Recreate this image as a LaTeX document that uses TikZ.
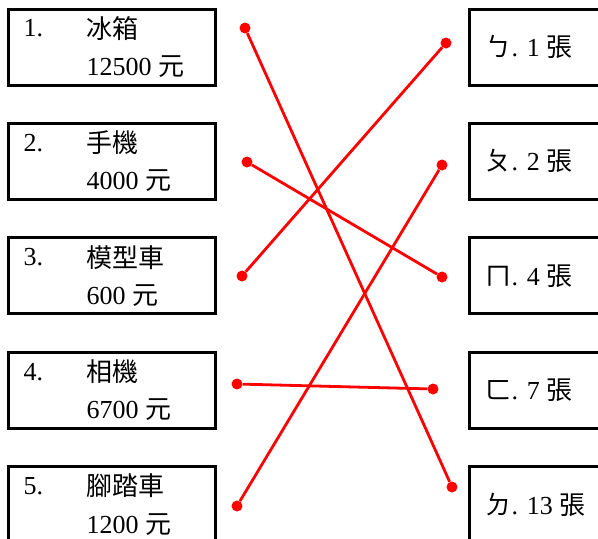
\documentclass[tikz,border=0pt]{standalone}
\usepackage{fontspec}
\setmainfont{Liberation Serif}
\newfontfamily\cjk{Noto Sans CJK TC}
\begin{document}
\begin{tikzpicture}[x=1pt,y=-1pt,
  box/.style={draw,line width=3pt,minimum width=207pt,minimum height=76pt,inner sep=0pt},
  tagbox/.style={draw,line width=3pt,minimum width=150pt,minimum height=76pt,inner sep=0pt},
  txt/.style={anchor=west,inner sep=0pt,font=\fontsize{26}{30}\selectfont},
  dot/.style={circle,fill=red,inner sep=0pt,minimum size=11pt},
  link/.style={red,line width=2.8pt}]
   \clip (0,0) rectangle (598,539);
   % left column: items and prices
   \foreach \n/\item/\price [count=\k from 0] in {1/冰箱/12500,2/手機/4000,3/模型車/600,4/相機/6700,5/腳踏車/1200}{
     \node[box] (a\n) at (112,47+114.4*\k) {};
     \node[txt] (num\n) at ([shift={(16.5,21)}]a\n.north west) {\n.};
     \node[txt] (item\n) at ([shift={(79.5,21)}]a\n.north west) {\cjk \item};
     \node[txt] (price\n) at ([shift={(79.5,59)}]a\n.north west) {\price\ {\cjk 元}};
   }
   % right column: number of bills
   \foreach \n/\sym/\cnt [count=\k from 0] in {1/ㄅ/1,2/ㄆ/2,3/ㄇ/4,4/ㄈ/7,5/ㄉ/13}{
     \node[tagbox] (b\n) at (544,47+114.4*\k) {};
     \node[txt] (tag\n) at ([shift={(18,0)}]b\n.west) {{\cjk \sym}. \cnt\ {\cjk 張}};
   }
   % dots
   \node[dot] (l1) at (245,28) {};
   \node[dot] (l2) at (247,162) {};
   \node[dot] (l3) at (242,276) {};
   \node[dot] (l4) at (237,384) {};
   \node[dot] (l5) at (237,506) {};
   \node[dot] (r1) at (446,43) {};
   \node[dot] (r2) at (442,165) {};
   \node[dot] (r3) at (442,277) {};
   \node[dot] (r4) at (433,389) {};
   \node[dot] (r5) at (452,487) {};
   % matching lines
   \draw[link] (l1) -- (r5);
   \draw[link] (l2) -- (r3);
   \draw[link] (l3) -- (r1);
   \draw[link] (l4) -- (r4);
   \draw[link] (l5) -- (r2);
\end{tikzpicture}
\end{document}
